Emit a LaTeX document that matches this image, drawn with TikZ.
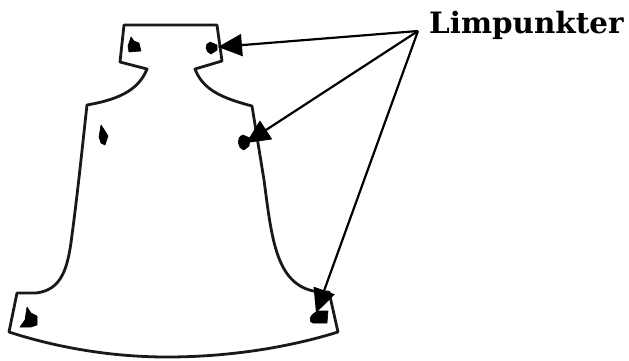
\documentclass[tikz,border=0pt]{standalone}
\usepackage{fontspec}
\setmainfont{DejaVu Serif}
\usetikzlibrary{arrows.meta}
\tikzset{
  outline/.style={draw=black!90,line width=2.8pt,line join=round,fill=white},
  spot/.style={fill=black,draw=black,line width=0.6pt,line join=round},
  pointer/.style={draw=black,line width=2.2pt,-{Triangle[length=24pt,width=22pt]}},
  caption/.style={font=\bfseries\fontsize{29.4}{32}\selectfont,inner sep=0pt,anchor=base west}
}
\begin{document}
\begin{tikzpicture}[x=1pt,y=-1pt]
\useasboundingbox (0,0) rectangle (629,360);
\path[outline] (124,25) -- (217,25) -- (222,61) -- (195,69)
  .. controls (203,90) and (222,98) .. (252,106)
  -- (264,180) .. controls (272,240) and (276,288) .. (320,292)
  -- (329,292) -- (338,332)
  .. controls (290,347) and (230,357) .. (167,357)
  .. controls (110,357) and (55,347) .. (9,332)
  -- (17,293) -- (36,293)
  .. controls (62,290) and (68,268) .. (72,235)
  .. controls (78,190) and (82,150) .. (87,105)
  .. controls (115,100) and (138,92) .. (147,69)
  -- (120,62) -- cycle;
\path[spot] (131,37) -- (134,41) -- (139,43) -- (141,51) -- (129,52) -- (128,46) -- cycle;
\path[spot] (210,42) .. controls (204,44) and (205,52) .. (211,54) -- (217,50) -- (217,45) -- cycle;
\path[spot] (101,125) -- (105,131) -- (108,136) -- (105,145) -- (101,143) -- (99,137) -- cycle;
\path[spot] (243,135) .. controls (236,137) and (237,148) .. (244,150) -- (249,146) -- (250,138) -- cycle;
\path[spot] (27,307) -- (31,313) -- (37,316) -- (37,325) -- (31,327) -- (20,327) -- (25,320) -- cycle;
\path[spot] (318,311) .. controls (309,315) and (308,322) .. (313,323) -- (327,323) -- (328,311) -- cycle;
\node[caption] (lim) at (429,33) {Limpunkter};
\coordinate (hub) at (418,31);
\coordinate (t1) at (218,47);
\coordinate (t2) at (246,143);
\coordinate (t3) at (316,313);
\draw[pointer] (hub) -- (t1);
\draw[pointer] (hub) -- (t2);
\draw[pointer] (hub) -- (t3);
\end{tikzpicture}
\end{document}
